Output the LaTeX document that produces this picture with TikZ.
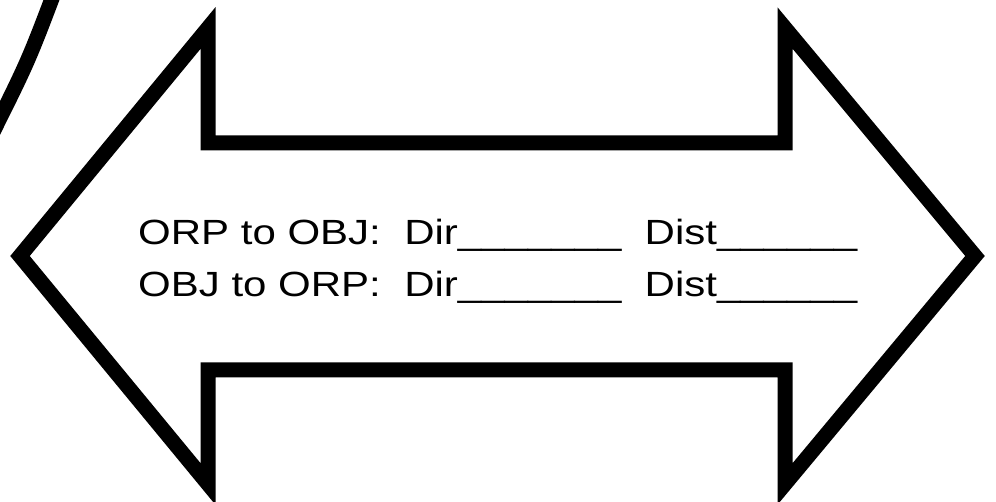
\documentclass[tikz,border=0pt]{standalone}
\usepackage{fontspec}
\setmainfont{Liberation Sans}[FakeStretch=1.2]
\usetikzlibrary{positioning}

\begin{document}
\begin{tikzpicture}[x=1pt,y=-1pt]
  \tikzstyle{contorno}=[draw=black, line width=15pt, line join=miter, fill=white]
  \tikzstyle{texto}=[inner sep=0pt, anchor=base west, font=\fontsize{35}{42}\selectfont]

  \useasboundingbox (0,0) rectangle (996,502);

  % Arco de fondo
  \draw[line width=15pt] (56,-12) .. controls (28,62) .. (-14,146);

  % Flecha doble
  \draw[contorno] (20,256) -- (208,28) -- (208,143) -- (785,143) -- (785,28)
    -- (975,256) -- (785,484) -- (785,370) -- (208,370) -- (208,484) -- cycle;

  % Texto
  \node[texto] (linea1) at (138,245) {ORP to OBJ:\ \ Dir\_\_\_\_\_\_\_\ \ Dist\_\_\_\_\_\_};
  \node[texto] (linea2) at (138,297) {OBJ to ORP:\ \ Dir\_\_\_\_\_\_\_\ \ Dist\_\_\_\_\_\_};
\end{tikzpicture}
\end{document}
